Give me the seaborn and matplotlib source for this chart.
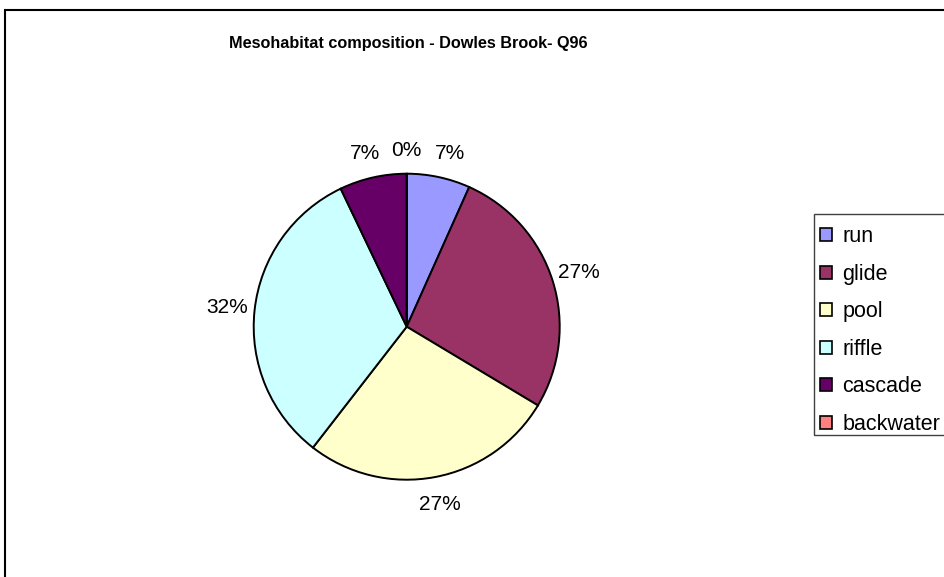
import matplotlib
matplotlib.use("Agg")
import matplotlib.pyplot as plt
import matplotlib.transforms as mtransforms
import seaborn as sns
from matplotlib.patches import Rectangle

# Mesohabitat shares (%) at Q96
habitats = ["run", "glide", "pool", "riffle", "cascade", "backwater"]
shares = [6.7, 26.9, 26.9, 32.4, 7.1, 0.0]
hab_colors = ["#9999FF", "#993366", "#FFFFCC", "#CCFFFF", "#660066", "#FF8080"]
title = "Mesohabitat composition - Dowles Brook- Q96"

sns.set_theme(style="white")
plt.rcParams["font.family"] = ["Liberation Sans", "DejaVu Sans"]
plt.rcParams["text.color"] = "black"

W, H = 944, 577
fig = plt.figure(figsize=(W / 100, H / 100), dpi=100)
fig.patch.set_facecolor("white")

# outer chart frame (runs off the right and bottom edges)
fig.add_artist(Rectangle((5 / W, -0.1), 1.2, 1.1 - 10 / H,
                         transform=fig.transFigure, fill=False,
                         edgecolor="black", linewidth=1.5, clip_on=False))

# pie axes: square, centred on the plot area
cx, cy, r = 406.7, 577 - 326.7, 153.0
side = 2.5 * r
ax = fig.add_axes([(cx - side / 2) / W, (cy - side / 2) / H, side / W, side / H])
palette = sns.color_palette(hab_colors)
wedges, _, autotexts = ax.pie(
    shares, colors=palette, startangle=90, counterclock=False,
    autopct="%.0f%%", pctdistance=1.18,
    wedgeprops=dict(edgecolor="black", linewidth=1.4),
    textprops=dict(fontsize=15, color="black"),
)
ax.set_xlim(-1.25, 1.25)
ax.set_ylim(-1.25, 1.25)
ax.set_aspect("equal")
ax.axis("off")

# spread the crowded labels of the thin slices at the top a little
autotexts[0].set_transform(ax.transData + mtransforms.ScaledTranslation(
    6 / 100, -3 / 100, fig.dpi_scale_trans))
autotexts[5].set_transform(ax.transData + mtransforms.ScaledTranslation(
    0, -4 / 100, fig.dpi_scale_trans))
autotexts[4].set_transform(ax.transData + mtransforms.ScaledTranslation(
    -2 / 100, -3 / 100, fig.dpi_scale_trans))

fig.text(408 / W, 1 - 48 / H, title, ha="center", va="baseline",
         fontsize=11.7, fontweight="bold", color="black")

# legend entries, with a box that runs off the right edge
leg = fig.legend(wedges, habitats, loc="upper left",
                 bbox_to_anchor=(810 / W, 1 - 216.5 / H), borderaxespad=0,
                 fontsize=15.5, frameon=False, labelcolor="black",
                 handlelength=0.55, handleheight=0.55,
                 handletextpad=0.5, labelspacing=0.77, borderpad=0.45)
for h in leg.legend_handles:
    h.set_edgecolor("black")
    h.set_linewidth(1.2)
fig.add_artist(Rectangle((814 / W, 1 - 435 / H), 0.3, (435 - 214) / H,
                         transform=fig.transFigure, fill=False,
                         edgecolor="#404040", linewidth=1.0, clip_on=False))

fig.savefig("out.png", dpi=100, facecolor="white")
